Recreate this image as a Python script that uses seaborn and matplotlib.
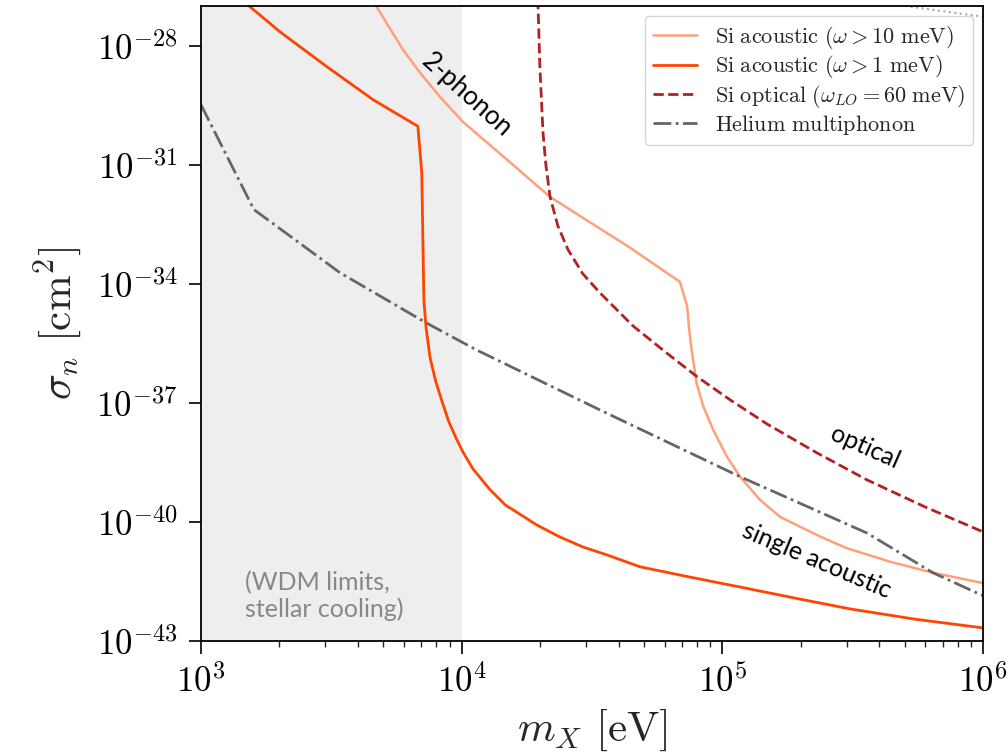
import numpy as np
import pandas as pd
import matplotlib
matplotlib.use("Agg")
import matplotlib.pyplot as plt
import matplotlib.ticker as mticker
import seaborn as sns

# ---------------- data (log10 values) ----------------
si10_logm = [3.660, 3.671, 3.687, 3.725, 3.775, 3.840, 3.917, 4.005, 4.147, 4.339, 4.646,
             4.837, 4.865, 4.873, 4.882, 4.901, 4.927, 4.965, 5.017, 5.068, 5.144, 5.221,
             5.298, 5.386, 5.477, 5.642, 5.808, 6.0]
si10_logs = [-26.75, -26.99, -27.16, -27.57, -28.10, -28.68, -29.29, -29.92, -30.72, -31.81, -33.09,
             -33.95, -34.57, -35.16, -35.66, -36.50, -37.09, -37.68, -38.35, -38.86, -39.44, -39.87,
             -40.12, -40.40, -40.66, -41.00, -41.28, -41.54]

si1_logm = [3.10, 3.188, 3.303, 3.483, 3.66, 3.832, 3.847, 3.855, 3.863, 3.879, 3.901,
            3.924, 3.951, 3.978, 4.005, 4.043, 4.109, 4.167, 4.289, 4.377, 4.465, 4.557,
            4.684, 4.876, 5.068, 5.279, 5.489, 5.739, 6.0]
si1_logs = [-26.54, -27.02, -27.65, -28.53, -29.36, -30.03, -31.21, -34.40, -35.08, -35.87, -36.47,
            -36.95, -37.48, -37.88, -38.24, -38.66, -39.19, -39.57, -40.08, -40.38, -40.63, -40.83,
            -41.13, -41.39, -41.64, -41.92, -42.19, -42.45, -42.67]

opt_logm = [4.289, 4.293, 4.300, 4.312, 4.323, 4.339, 4.369, 4.408, 4.465, 4.531, 4.657,
            4.780, 4.903, 5.029, 5.171, 5.363, 5.555, 5.777, 6.0]
opt_logs = [-26.5, -26.99, -28.53, -30.19, -31.00, -31.81, -32.54, -33.14, -33.75, -34.23, -35.06,
            -35.71, -36.34, -36.92, -37.53, -38.26, -38.94, -39.62, -40.25]

he_logm = [3.0, 3.203, 3.533, 3.863, 4.055, 4.531, 5.068, 5.555, 5.808, 6.0]
he_logs = [-29.49, -32.13, -33.72, -34.98, -35.66, -37.18, -38.86, -40.28, -41.28, -41.86]

dot_logm = [5.68, 6.0]
dot_logs = [-26.98, -27.27]

labels = [r'$\mathrm{Si\ acoustic}\ (\omega > 10\ \mathrm{meV})$',
          r'$\mathrm{Si\ acoustic}\ (\omega > 1\ \mathrm{meV})$',
          r'$\mathrm{Si\ optical}\ (\omega_{LO} = 60\ \mathrm{meV})$',
          r'$\mathrm{Helium\ multiphonon}$']

y_ticks_exp = [-43, -40, -37, -34, -31, -28]
x_ticks_exp = [3, 4, 5, 6]

# ---------------- style ----------------
sns.set_style("ticks")
plt.rcParams['mathtext.fontset'] = 'cm'
plt.rcParams['font.family'] = ['DejaVu Sans']

fig = plt.figure(figsize=(10.07, 7.56), dpi=100)
ax = fig.add_axes([201/1007, 1 - 641/756, (983 - 201)/1007, (641 - 6)/756])
ax.set_xscale('log')
ax.set_yscale('log')

ax.axvspan(1e3, 1e4, color='#eeeeee', zorder=0, lw=0)

def df(lm, ls):
    return pd.DataFrame({'m': 10.0 ** np.array(lm), 's': 10.0 ** np.array(ls)})

sns.lineplot(data=df(si10_logm, si10_logs), x='m', y='s', ax=ax, sort=False, estimator=None,
             color='#FFA07A', lw=1.8, label=labels[0])
sns.lineplot(data=df(si1_logm, si1_logs), x='m', y='s', ax=ax, sort=False, estimator=None,
             color='#FF4500', lw=2.0, label=labels[1])
sns.lineplot(data=df(opt_logm, opt_logs), x='m', y='s', ax=ax, sort=False, estimator=None,
             color='#B22222', lw=2.0, ls='--', label=labels[2])
sns.lineplot(data=df(he_logm, he_logs), x='m', y='s', ax=ax, sort=False, estimator=None,
             color='#666666', lw=2.0, ls='-.', label=labels[3])
sns.lineplot(data=df(dot_logm, dot_logs), x='m', y='s', ax=ax, sort=False, estimator=None,
             color='#aaaaaa', lw=1.5, ls=':', legend=False)

ax.set_xlim(1e3, 1e6)
ax.set_ylim(1e-43, 1e-27)

ax.set_xticks([10.0 ** e for e in x_ticks_exp])
ax.set_yticks([10.0 ** e for e in y_ticks_exp])
fmt = mticker.FuncFormatter(lambda v, p: r'$10^{%d}$' % int(round(np.log10(v))))
ax.xaxis.set_major_formatter(fmt)
ax.yaxis.set_major_formatter(fmt)
ax.xaxis.set_minor_locator(mticker.LogLocator(base=10, subs=np.arange(2, 10), numticks=100))
ax.xaxis.set_minor_formatter(mticker.NullFormatter())
ax.yaxis.set_minor_locator(mticker.NullLocator())

ax.tick_params(axis='both', which='major', direction='out', length=9, width=1.2,
               labelsize=25, pad=8, colors='black')
ax.tick_params(axis='x', which='minor', direction='out', length=4, width=1.0)
for sp in ax.spines.values():
    sp.set_visible(True)
    sp.set_linewidth(1.3)
    sp.set_color('black')

ax.set_xlabel(r'$m_X\ [\mathrm{eV}]$', fontsize=31, labelpad=6)
ax.set_ylabel(r'$\sigma_n\ [\mathrm{cm}^2]$', fontsize=31, labelpad=8)

leg = ax.legend(loc='upper right', fontsize=16, handlelength=2.0, labelspacing=0.12,
                borderaxespad=0.45, borderpad=0.35, frameon=True)
leg.get_frame().set_edgecolor('#cccccc')

txtfont = ['Lato', 'DejaVu Sans']
ax.text(10 ** 4.02, 10 ** -29.24, '2-phonon', rotation=-42, fontsize=18.5,
        ha='center', va='center', family=txtfont, color='black')
ax.text(10 ** 5.547, 10 ** -38.11, 'optical', rotation=-24, fontsize=18,
        ha='center', va='center', family=txtfont, color='black')
ax.text(10 ** 5.363, 10 ** -40.96, 'single acoustic', rotation=-23, fontsize=18,
        ha='center', va='center', family=txtfont, color='black')
ax.text(10 ** 3.169, 10 ** -41.86, '(WDM limits,\nstellar cooling)', fontsize=18,
        ha='left', va='center', family=txtfont, color='#888888', linespacing=1.15)

fig.savefig('out.png', dpi=100)
